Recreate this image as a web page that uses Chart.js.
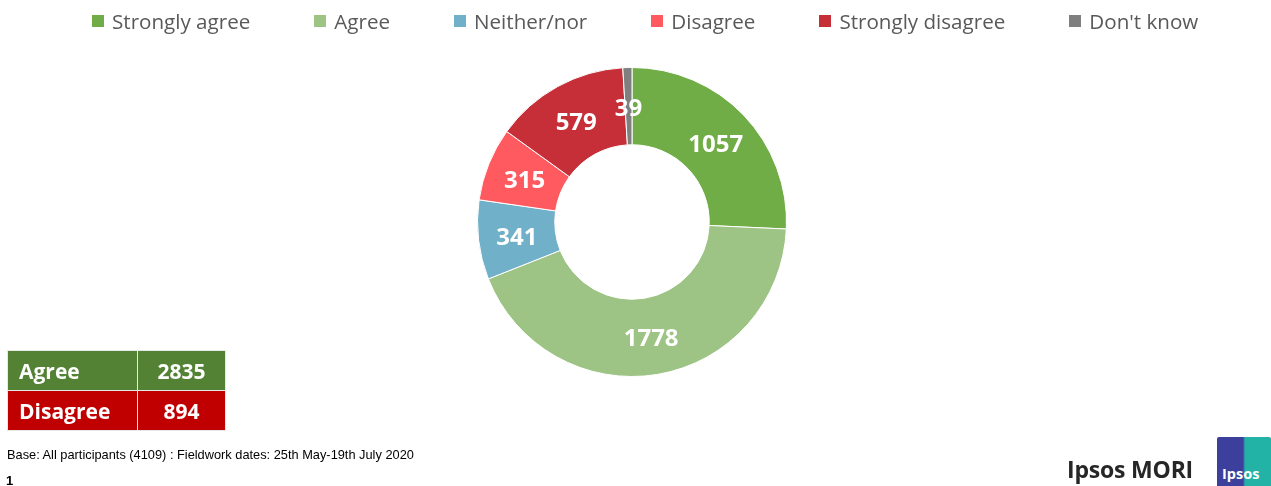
<!DOCTYPE html>
<html>
<head>
<meta charset="utf-8">
<script src="https://cdn.jsdelivr.net/npm/chart.js@4.4.0/dist/chart.umd.min.js"></script>
<style>
  html, body { margin: 0; padding: 0; background: #fff; }
  #wrap { position: relative; width: 1271px; height: 486px; overflow: hidden; font-family: "Open Sans", sans-serif; }
  #chart_canvas { position: absolute; left: 0; top: 0; }
  #legend { position: absolute; left: 92px; top: 7px; display: flex; white-space: nowrap; }
  #legend .item { display: flex; align-items: center; font-size: 20.6px; color: #595959; margin-right: 64px; }
  #legend .item:last-child { margin-right: 0; }
  #legend .box { width: 12px; height: 12px; margin-right: 8px; }
  #summary { position: absolute; left: 7px; top: 350px; border-collapse: collapse; }
  #summary td { color: #fff; font-weight: bold; font-size: 21px; height: 39px; padding: 0; border: 1.5px solid #e8e8e8; }
  #summary td.lbl { width: 118px; padding-left: 11px; }
  #summary td.val { width: 87px; text-align: center; }
  #base { position: absolute; left: 7px; top: 447px; font-family: "Liberation Sans", Arial, sans-serif; font-size: 12.8px; color: #000; }
  #pagenum { position: absolute; left: 6px; top: 473px; font-family: "Liberation Sans", Arial, sans-serif; font-size: 13px; font-weight: bold; }
  #brand { position: absolute; left: 1067px; top: 453px; font-size: 23px; font-weight: bold; color: #262626; letter-spacing: -0.2px; }
  #logo { position: absolute; left: 1217px; top: 437px; width: 54px; height: 49px; border-radius: 2px 2px 0 0;
          background: linear-gradient(90deg, #3c3f9c 0%, #3c3f9c 48%, #22b3a6 52%, #22b3a6 100%); }
  #logo span { position: absolute; left: 5px; top: 27px; color: #fff; font-weight: bold; font-size: 14.5px; }
</style>
</head>
<body>
<div id="wrap">
  <canvas id="chart_canvas" width="1271" height="486"></canvas>
  <div id="legend"></div>
  <table id="summary"></table>
  <div id="base">Base: All participants (4109) : Fieldwork dates: 25th May-19th July 2020</div>
  <div id="pagenum">1</div>
  <div id="brand">Ipsos MORI</div>
  <div id="logo"><span>Ipsos</span></div>
</div>
<script>
const labels = ['Strongly agree', 'Agree', 'Neither/nor', 'Disagree', 'Strongly disagree', "Don't know"];
const counts = [1057, 1778, 341, 315, 579, 39];
const colors = ['#70ad47', '#9dc484', '#70b0c8', '#ff5a60', '#c72f38', '#7f7f7f'];

const summary_labels = ['Agree', 'Disagree'];
const summary_values = [2835, 894];
const summary_colors = ['#548235', '#c00000'];

// html legend, spaced like the original slide
const legend = document.getElementById('legend');
labels.forEach((label, i) => {
    const item = document.createElement('div');
    item.className = 'item';
    item.innerHTML = '<div class="box" style="background:' + colors[i] + '"></div>' + label;
    legend.appendChild(item);
});

const table = document.getElementById('summary');
summary_labels.forEach((label, i) => {
    const row = document.createElement('tr');
    row.innerHTML = '<td class="lbl" style="background:' + summary_colors[i] + '">' + label + '</td>' +
        '<td class="val" style="background:' + summary_colors[i] + '">' + summary_values[i] + '</td>';
    table.appendChild(row);
});

// draw the count in the middle of each slice
const sliceLabels = {
    id: 'sliceLabels',
    afterDatasetsDraw(chart){
        const ctx = chart.ctx;
        const meta = chart.getDatasetMeta(0);
        ctx.save();
        ctx.font = 'bold 24px "Open Sans"';
        ctx.fillStyle = '#fff';
        ctx.textAlign = 'center';
        ctx.textBaseline = 'middle';
        meta.data.forEach((arc, i) => {
            const pos = arc.tooltipPosition();
            ctx.fillText(chart.data.datasets[0].data[i], pos.x, pos.y + 3);
        });
        ctx.restore();
    }
};

const ctx = document.getElementById('chart_canvas').getContext('2d');
const donut = new Chart(ctx, {
    type: 'doughnut',
    data: {
        labels: labels,
        datasets: [{
            data: counts,
            backgroundColor: colors,
            borderColor: '#fff',
            borderWidth: 1
        }]
    },
    options: {
        responsive: false,
        animation: false,
        cutout: '50%',
        layout: {
            padding: { left: 477, right: 484, top: 67, bottom: 109 }
        },
        plugins: {
            legend: { display: false },
            tooltip: { enabled: false }
        }
    },
    plugins: [sliceLabels]
});
</script>
</body>
</html>
